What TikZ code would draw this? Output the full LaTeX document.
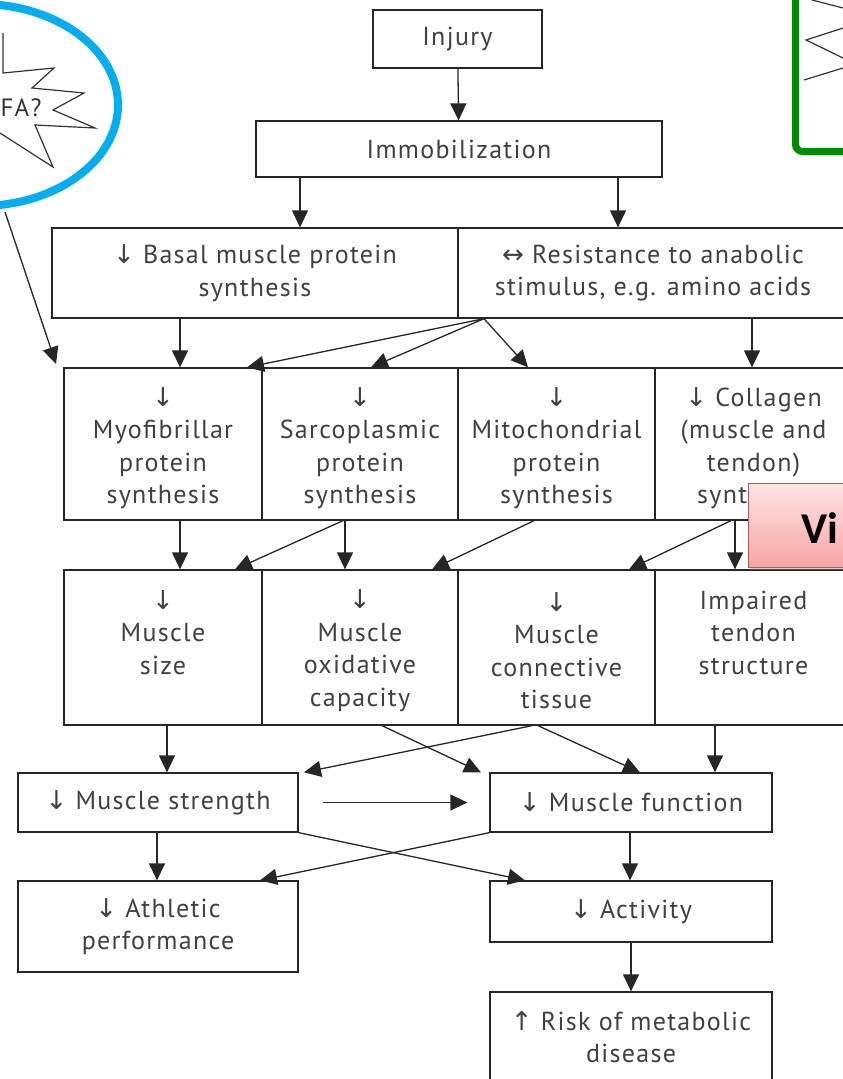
\documentclass[tikz,border=0pt]{standalone}
\usepackage{fontspec}
\setmainfont{PT Sans}[LetterSpace=5]
\newfontfamily\symf{DejaVu Sans}
\newfontfamily\calib{Carlito}
\usetikzlibrary{arrows.meta,shadows}
\definecolor{cyanring}{RGB}{0,174,239}
\definecolor{greenring}{RGB}{0,140,0}
\definecolor{vitop}{RGB}{255,228,228}
\definecolor{vibot}{RGB}{248,165,165}
\definecolor{viedge}{RGB}{200,80,80}
\newcommand{\dn}{{\symf\char"2193}}
\newcommand{\upa}{{\symf\char"2191}}
\newcommand{\lr}{{\symf\char"2194}}
\begin{document}
\begin{tikzpicture}[x=1pt,y=-1pt,
  box/.style={draw=black!85,line width=1.3pt,rectangle,inner sep=0pt,align=center,
     font=\fontsize{26}{32.5}\selectfont,text=black!75},
  tx/.style={inner sep=0pt,align=center,font=\fontsize{26}{32.5}\selectfont,text=black!75},
  arr/.style={draw=black!85,line width=1.3pt,-{Triangle[length=17pt,width=16pt]}}]
\useasboundingbox (0,0) rectangle (843,1079);
\begin{scope}
\clip (0,0) rectangle (843,1079);
% blue ring with starburst
\draw[black!80,line width=1.2pt] (3,33) -- (3,73) -- (54,68) -- (32,88) -- (84,93) -- (53,110) -- (95,128) -- (35,125) -- (53,167) -- (0,133);
\node[font=\fontsize{25}{28}\selectfont,text=black!80] (fa) at (21,108) {FA?};
\draw[cyanring,line width=8pt] (-20,105) ellipse [x radius=138pt, y radius=101pt];
% green box
\draw[black!80,line width=1.2pt] (812,0) -- (843,8);
\draw[black!80,line width=1.2pt] (843,28) -- (806,40) -- (843,58);
\draw[black!80,line width=1.2pt] (843,68) -- (804,80);
\draw[greenring,line width=7pt,rounded corners=7pt] (795.5,-30) rectangle (880,151.5);

\node[box,minimum width=169pt,minimum height=58pt] (injury) at (457.5,39) {Injury};
\node[box,minimum width=406pt,minimum height=56pt] (immob) at (459,149) {Immobilization};
\node[box,minimum width=406pt,minimum height=90pt] (basal) at (255,273) {\dn\ Basal muscle protein\\synthesis};
\node[box,minimum width=390pt,minimum height=90pt] (resist) at (653,273) {\lr\ Resistance to anabolic\\stimulus, e.g. amino acids};
\node[box,minimum width=198pt,minimum height=152pt,label={[tx,yshift=-4pt]center:{\dn\\Myofibrillar\\protein\\synthesis}}] (myo) at (163,444) {};
\node[box,minimum width=196pt,minimum height=152pt,label={[tx,yshift=-4pt]center:{\dn\\Sarcoplasmic\\protein\\synthesis}}] (sarc) at (360,444) {};
\node[box,minimum width=197pt,minimum height=152pt,label={[tx,yshift=-4pt]center:{\dn\\Mitochondrial\\protein\\synthesis}}] (mito) at (556.5,444) {};
\node[box,minimum width=197pt,minimum height=152pt,label={[tx,yshift=-4pt]center:{\dn\ Collagen\\(muscle and\\tendon)\\synthesis}}] (coll) at (753.5,444) {};
\node[box,minimum width=198pt,minimum height=155pt,label={[tx,yshift=15pt]center:{\dn\\Muscle\\size}}] (size) at (163,647.5) {};
\node[box,minimum width=196pt,minimum height=155pt,label={[tx,yshift=-3pt]center:{\dn\\Muscle\\oxidative\\capacity}}] (oxid) at (360,647.5) {};
\node[box,minimum width=197pt,minimum height=155pt,label={[tx,yshift=-3pt]center:{\dn\\Muscle\\connective\\tissue}}] (conn) at (556.5,647.5) {};
\node[box,minimum width=197pt,minimum height=155pt,label={[tx,yshift=15pt]center:{Impaired\\tendon\\structure}}] (tendon) at (753.5,647.5) {};
\node[box,minimum width=280pt,minimum height=59pt] (strength) at (158,802.5) {\dn\ Muscle strength};
\node[box,minimum width=282pt,minimum height=59pt] (function) at (631,802.5) {\dn\ Muscle function};
\node[box,minimum width=280pt,minimum height=91pt] (athletic) at (158,926.5) {\dn\ Athletic\\performance};
\node[box,minimum width=282pt,minimum height=61pt] (activity) at (631,911.5) {\dn\ Activity};
\node[box,minimum width=282pt,minimum height=90pt] (risk) at (631,1037) {\upa\ Risk of metabolic\\disease};

% connectors
\draw[arr] (injury) -- (immob);
\draw[arr] (immob.south -| 300,0) -- (basal.north -| 300,0);
\draw[arr] (immob.south -| 618,0) -- (resist.north -| 618,0);
\coordinate (faend) at (5,212);
\coordinate (fatip) at (56,364);
\draw[arr] (faend) -- (fatip);
\draw[arr] (basal.south -| 180,0) -- (myo.north -| 180,0);
\draw[arr] (resist.south -| 484,0) -- (myo.north -| 247,0);
\draw[arr] (resist.south -| 484,0) -- (sarc.north -| 371,0);
\draw[arr] (resist.south -| 484,0) -- (mito.north -| 528,0);
\draw[arr] (resist.south -| 752,0) -- (coll.north -| 752,0);
\draw[arr] (myo.south -| 180,0) -- (size.north -| 180,0);
\draw[arr] (sarc.south -| 343,0) -- (size.north -| 235,0);
\draw[arr] (sarc.south -| 345,0) -- (oxid.north -| 345,0);
\draw[arr] (mito.south -| 534,0) -- (oxid.north -| 432,0);
\draw[arr] (coll.south -| 731,0) -- (conn.north -| 629,0);
\draw[arr] (coll.south -| 735,0) -- (tendon.north -| 735,0);
\draw[arr] (size.south -| 167,0) -- (strength.north -| 167,0);
\draw[arr] (oxid.south -| 382,0) -- (function.north -| 481,0);
\draw[arr] (conn.south -| 532,0) -- (strength.north -| 304,0);
\draw[arr] (conn.south -| 538,0) -- (function.north -| 640,0);
\draw[arr] (tendon.south -| 715,0) -- (function.north -| 715,0);
\draw[arr] ([xshift=24pt]strength.east) -- ([xshift=-22pt]function.west);
\draw[arr] (strength.south -| 157,0) -- (athletic.north -| 157,0);
\draw[arr] (strength.south east) -- (activity.north -| 525,0);
\draw[arr] (function.south west) -- (athletic.north -| 260,0);
\draw[arr] (function.south -| 630,0) -- (activity.north -| 630,0);
\draw[arr] (activity) -- (risk);

% Vi callout
\node[draw=viedge,line width=1pt,top color=vitop,bottom color=vibot,
  drop shadow={opacity=0.35,shadow xshift=3pt,shadow yshift=-3pt},
  minimum width=110pt,minimum height=84pt,inner sep=0pt] (vi) at (803,525) {};
\node[anchor=base west,inner sep=0pt,font=\calib\bfseries\fontsize{44}{48}\selectfont] (vitext) at (801,543) {Vi};
\end{scope}
\end{tikzpicture}
\end{document}
